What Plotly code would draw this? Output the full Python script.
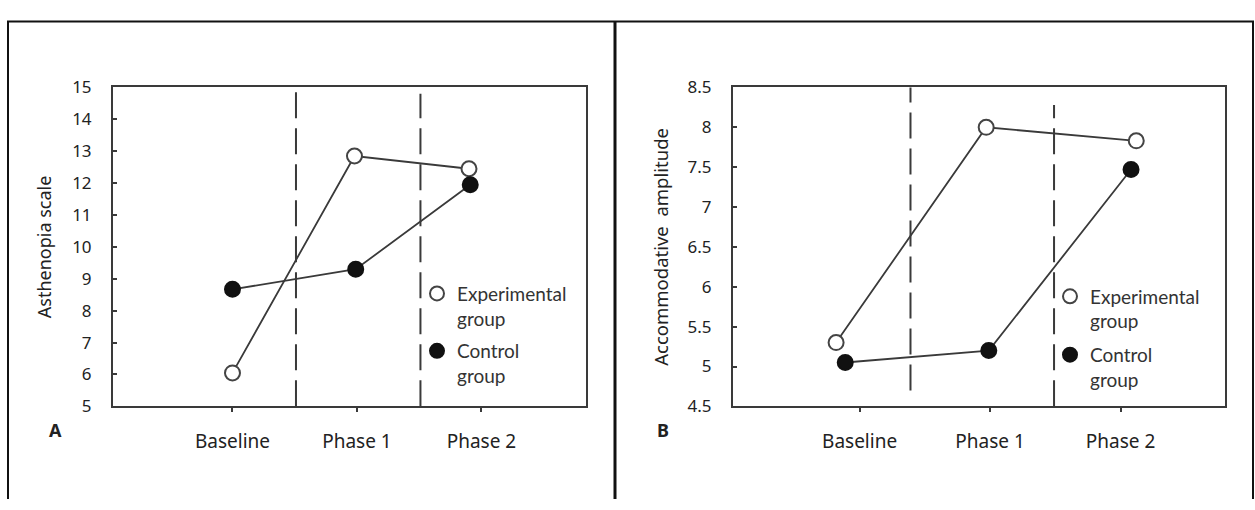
import plotly.graph_objects as go

W, H = 1255, 510

categories = ["Baseline", "Phase 1", "Phase 2"]
cat_pos = [0, 1, 2]

# Panel A: Asthenopia scale
a_exp_x = [0, 0.98, 1.9]
a_exp_y = [6.05, 12.85, 12.45]
a_ctl_x = [0, 0.99, 1.91]
a_ctl_y = [8.67, 9.3, 11.95]
a_phase_bounds = [0.51, 1.51]
a_yticks = [5, 6, 7, 8, 9, 10, 11, 12, 13, 14, 15]

# Panel B: Accommodative amplitude
b_exp_x = [-0.18, 0.97, 2.12]
b_exp_y = [5.3, 8.0, 7.83]
b_ctl_x = [-0.11, 0.99, 2.08]
b_ctl_y = [5.05, 5.2, 7.47]
b_phase_bounds = [0.39, 1.49]
b_yticks = [4.5, 5, 5.5, 6, 6.5, 7, 7.5, 8, 8.5]
b_yticktext = ["4.5", "5", "5.5", "6", "6.5", "7", "7.5", "8", "8.5"]

LINE = "#3a3a3a"
TXT = "#222222"
YTICKFONT = dict(family="Noto Sans", size=17, color=TXT)
XTICKFONT = dict(family="Noto Sans", size=19, color=TXT)
LEGFONT = dict(family="Lato", size=19, color="#333333")

fig = go.Figure()

def add_series(x, y, xa, ya, filled):
    fig.add_trace(go.Scatter(
        x=x, y=y, xaxis=xa, yaxis=ya, mode="lines+markers",
        line=dict(color=LINE, width=1.8),
        marker=dict(size=15, symbol="circle",
                    color="#111111" if filled else "white",
                    line=dict(color="#111111" if filled else "#444444", width=2)),
        showlegend=False, cliponaxis=False, hoverinfo="skip"))

add_series(a_exp_x, a_exp_y, "x", "y", False)
add_series(a_ctl_x, a_ctl_y, "x", "y", True)
add_series(b_exp_x, b_exp_y, "x2", "y2", False)
add_series(b_ctl_x, b_ctl_y, "x2", "y2", True)

# legend entries
for leg, xa, ya in [("legend", "x", "y"), ("legend2", "x2", "y2")]:
    fig.add_trace(go.Scatter(x=[None], y=[None], xaxis=xa, yaxis=ya, mode="markers",
                             name="Experimental<br>group", legend=leg, legendgroup=leg + "e",
                             marker=dict(size=14, color="white", line=dict(color="#444444", width=2))))
    fig.add_trace(go.Scatter(x=[None], y=[None], xaxis=xa, yaxis=ya, mode="markers",
                             name="Control<br>group", legend=leg, legendgroup=leg + "c",
                             marker=dict(size=14, color="#111111", line=dict(color="#111111", width=2))))

ydom = [1 - 413 / H, 1 - 79 / H]
common_x = dict(tickmode="array", tickvals=cat_pos, ticktext=categories,
                ticks="outside", ticklen=4, tickwidth=2, tickcolor=LINE,
                showline=True, linecolor=LINE, linewidth=2, mirror=True,
                showgrid=False, zeroline=False, tickfont=XTICKFONT,
                ticklabelstandoff=13)
common_y = dict(ticks="inside", ticklen=4, tickwidth=2, tickcolor=LINE,
                showline=True, linecolor=LINE, linewidth=2, mirror=True,
                showgrid=False, zeroline=False, tickfont=YTICKFONT,
                ticklabelstandoff=16)

fig.update_layout(
    width=W, height=H, margin=dict(l=0, r=0, t=0, b=0),
    paper_bgcolor="white", plot_bgcolor="white",
    xaxis=dict(domain=[113 / W, 586 / W], range=[-0.96, 2.84], anchor="y", **common_x),
    yaxis=dict(domain=ydom, range=[5, 15], tickvals=a_yticks, anchor="x",
               title=dict(text="Asthenopia scale", font=dict(family="Noto Sans", size=18, color=TXT), standoff=16),
               **common_y),
    xaxis2=dict(domain=[733 / W, 1225 / W], range=[-0.97, 2.80], anchor="y2", **common_x),
    yaxis2=dict(domain=ydom, range=[4.5, 8.5], tickvals=b_yticks, ticktext=b_yticktext, anchor="x2",
                title=dict(text="Accommodative\u00a0 amplitude", font=dict(family="Noto Sans", size=18.5, color=TXT), standoff=14),
                **common_y),
    legend=dict(x=417 / W, y=1 - 275 / H, xanchor="left", yanchor="top", valign="top",
                bgcolor="rgba(0,0,0,0)", font=LEGFONT, itemwidth=30, tracegroupgap=5,
                itemclick=False, itemdoubleclick=False),
    legend2=dict(x=1050 / W, y=1 - 278 / H, xanchor="left", yanchor="top", valign="top",
                 bgcolor="rgba(0,0,0,0)", font=LEGFONT, itemwidth=30, tracegroupgap=6,
                 itemclick=False, itemdoubleclick=False),
)

shapes = []
# phase boundary dashed lines
for xv, y0, y1 in [(a_phase_bounds[0], 0, 1), (a_phase_bounds[1], 0, 0.98)]:
    shapes.append(dict(type="line", xref="x", yref="y domain", x0=xv, x1=xv, y0=y0, y1=y1,
                       line=dict(color=LINE, width=2, dash="26px,10px")))
for xv, y0, y1 in [(b_phase_bounds[0], 0.05, 1), (b_phase_bounds[1], 0, 0.945)]:
    shapes.append(dict(type="line", xref="x2", yref="y2 domain", x0=xv, x1=xv, y0=y0, y1=y1,
                       line=dict(color=LINE, width=2, dash="26px,10px")))
# outer frame and divider
shapes.append(dict(type="path", xref="paper", yref="paper",
                   path=f"M {8/W} 0 L {8/W} {1-10/H} L {1253/W} {1-10/H} L {1253/W} 0",
                   line=dict(color="#111111", width=2)))
shapes.append(dict(type="line", xref="paper", yref="paper", x0=615 / W, x1=615 / W, y0=0, y1=1 - 10 / H,
                   line=dict(color="#111111", width=3)))
fig.update_layout(shapes=shapes)

for letter, xp in [("A", 55), ("B", 663)]:
    fig.add_annotation(text=f"<b>{letter}</b>", xref="paper", yref="paper", x=xp / W, y=1 - 438 / H,
                       xanchor="center", yanchor="middle",
                       showarrow=False, font=dict(family="Noto Sans", size=18, color=TXT))

fig.write_html("out.html", config={"displayModeBar": False},
               post_script="document.body.style.margin='0';document.body.style.overflow='hidden';")
